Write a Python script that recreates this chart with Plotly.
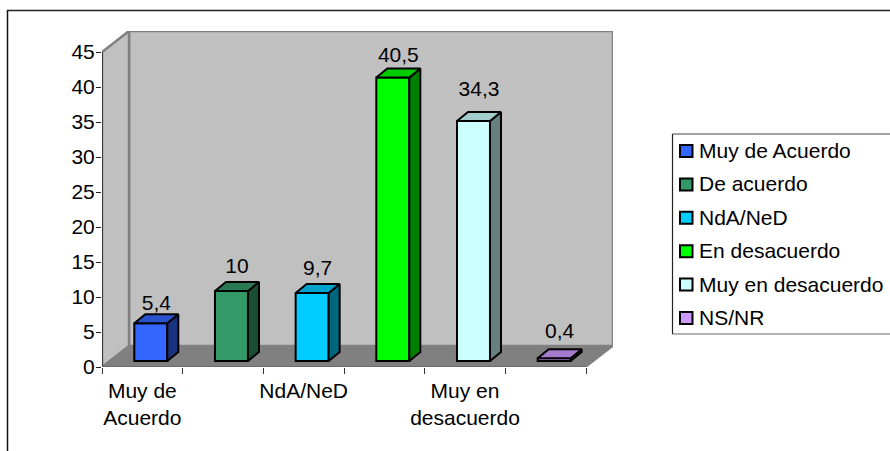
import plotly.graph_objects as go

categories = ["Muy de Acuerdo", "De acuerdo", "NdA/NeD", "En desacuerdo", "Muy en desacuerdo", "NS/NR"]
values = [5.4, 10, 9.7, 40.5, 34.3, 0.4]
value_labels = ["5,4", "10", "9,7", "40,5", "34,3", "0,4"]
axis_ticks = [0, 5, 10, 15, 20, 25, 30, 35, 40, 45]
axis_category_labels = ["Muy de<br>Acuerdo", "NdA/NeD", "Muy en<br>desacuerdo"]
axis_category_pos = [0.5, 2.5, 4.5]

front_colors = ["#3366FF", "#339966", "#00CCFF", "#00FF00", "#CCFFFF", "#CC99FF"]
side_colors = ["#1A3380", "#1A4D33", "#006680", "#008000", "#668080", "#664D80"]
top_colors = ["#2952CC", "#297A52", "#00A3CC", "#00CC00", "#A3CCCC", "#A37ACC"]
label_lift = [2.6, 3.3, 3.3, 2.9, 4.3, 3.7]

W, H = 890, 451
CAT_PX = 80.67
PX_PER_UNIT = 7.0
DEPTH_X = 27 / CAT_PX
DEPTH_Y = 3.0
BAR_W = 33 / CAT_PX
BAR_CENTER = 0.605
BAR_BASE = 6 / PX_PER_UNIT
BAR_DX = 11 / CAT_PX
BAR_DY = 9 / PX_PER_UNIT
FONT = "Liberation Sans"
FS = 21
n = len(values)
WALL, FLOOR = "#C0C0C0", "#808080"

fig = go.Figure()

# Front faces
for i in range(n):
    fig.add_trace(go.Bar(
        x=[i + BAR_CENTER], y=[values[i]], base=BAR_BASE, width=BAR_W,
        name=categories[i], showlegend=False,
        marker=dict(color=front_colors[i], line=dict(color="black", width=2)),
        hoverinfo="name+y",
    ))

# Side and top faces
for i in range(n):
    l = i + BAR_CENTER - BAR_W / 2
    r = i + BAR_CENTER + BAR_W / 2
    b = BAR_BASE
    t = BAR_BASE + values[i]
    fig.add_trace(go.Scatter(
        x=[r, r + BAR_DX, r + BAR_DX, r, r],
        y=[b, b + BAR_DY, t + BAR_DY, t, b],
        mode="lines", fill="toself", fillcolor=side_colors[i],
        line=dict(color="black", width=2), showlegend=False, hoverinfo="skip",
    ))
    fig.add_trace(go.Scatter(
        x=[l, r, r + BAR_DX, l + BAR_DX, l],
        y=[t, t, t + BAR_DY, t + BAR_DY, t],
        mode="lines", fill="toself", fillcolor=top_colors[i],
        line=dict(color="black", width=2), showlegend=False, hoverinfo="skip",
    ))

# Value labels
fig.add_trace(go.Scatter(
    x=[i + BAR_CENTER + BAR_DX / 2 for i in range(n)],
    y=[BAR_BASE + values[i] + label_lift[i] for i in range(n)],
    text=value_labels, mode="text", textposition="middle center",
    textfont=dict(family=FONT, size=FS, color="black"),
    showlegend=False, hoverinfo="skip",
))

shapes = []
def poly(xs, ys, fill, line=None, lw=0):
    path = "M " + " L ".join(f"{x},{y}" for x, y in zip(xs, ys)) + " Z"
    shapes.append(dict(type="path", path=path, xref="x", yref="y", fillcolor=fill,
                       line=dict(color=line or fill, width=lw), layer="below"))
def seg(x0, y0, x1, y1, color, lw, xref="x", yref="y"):
    shapes.append(dict(type="line", x0=x0, y0=y0, x1=x1, y1=y1, xref=xref, yref=yref,
                       line=dict(color=color, width=lw), layer="below"))

top = axis_ticks[-1]
# back wall, side wall, floor
poly([DEPTH_X, n + DEPTH_X, n + DEPTH_X, DEPTH_X], [DEPTH_Y, DEPTH_Y, top + DEPTH_Y, top + DEPTH_Y], WALL, FLOOR, 2.5)
poly([0, DEPTH_X, DEPTH_X, 0], [0, DEPTH_Y, top + DEPTH_Y, top], WALL, FLOOR, 2.5)
poly([0, n, n + DEPTH_X, DEPTH_X], [0, 0, DEPTH_Y, DEPTH_Y], FLOOR)
seg(n, 0, n + DEPTH_X, DEPTH_Y, "#808080", 1.5)
# axes
seg(0, 0, 0, top, "#222222", 1.5)
seg(0, 0, n, 0, "#666666", 1.5)

# outer frame
seg(7 / W, 1 - 10.5 / H, 1, 1 - 10.5 / H, "#222222", 1.5, "paper", "paper")
seg(7.5 / W, 1 - 10 / H, 7.5 / W, 0, "#111111", 1.5, "paper", "paper")

# legend
seg(672.5 / W, 1 - 134 / H, 890 / W, 1 - 134 / H, "#444444", 1.2, "paper", "paper")
seg(672.5 / W, 1 - 334 / H, 890 / W, 1 - 334 / H, "#666666", 1.2, "paper", "paper")
seg(672.5 / W, 1 - 134 / H, 672.5 / W, 1 - 334 / H, "#222222", 1.2, "paper", "paper")
annotations = []
for i, name in enumerate(categories):
    yc = 151 + i * 33.4
    shapes.append(dict(type="rect", xref="paper", yref="paper",
                       x0=680 / W, x1=692.5 / W, y0=1 - (yc - 6) / H, y1=1 - (yc + 6) / H,
                       fillcolor=front_colors[i], line=dict(color="black", width=2), layer="above"))
    annotations.append(dict(text=name, xref="paper", yref="paper", x=699 / W, y=1 - yc / H,
                            xanchor="left", yanchor="middle", showarrow=False, xshift=-2, yshift=0.5,
                            font=dict(family=FONT, size=FS, color="black")))

fig.update_layout(
    width=W, height=H, margin=dict(l=0, r=0, t=0, b=0), autosize=False,
    paper_bgcolor="white", plot_bgcolor="rgba(0,0,0,0)",
    font=dict(family=FONT, size=FS, color="black"),
    showlegend=False, barmode="overlay", shapes=shapes, annotations=annotations,
    xaxis=dict(
        automargin=False,
        domain=[102 / W, 613 / W], range=[0, 511 / CAT_PX], showgrid=False, zeroline=False,
        showline=False, tickmode="array", tickvals=axis_category_pos,
        ticktext=axis_category_labels, ticks="", ticklabelstandoff=9,
        tickangle=0,
        minor=dict(tickmode="array", tickvals=list(range(n + 1)), ticks="outside",
                   ticklen=6, tickwidth=1.2, tickcolor="#333333", showgrid=False),
    ),
    yaxis=dict(
        automargin=False,
        domain=[(H - 367) / H, (H - 31) / H], range=[0, 48], showgrid=False, zeroline=False,
        showline=False, tickmode="array", tickvals=axis_ticks, ticks="outside",
        ticklen=5, tickwidth=1.2, tickcolor="#222222", ticklabelstandoff=-3,
    ),
)

fig.write_html("out.html", config=dict(displayModeBar=False),
               post_script="document.body.style.margin='0';document.documentElement.style.overflow='hidden';")
